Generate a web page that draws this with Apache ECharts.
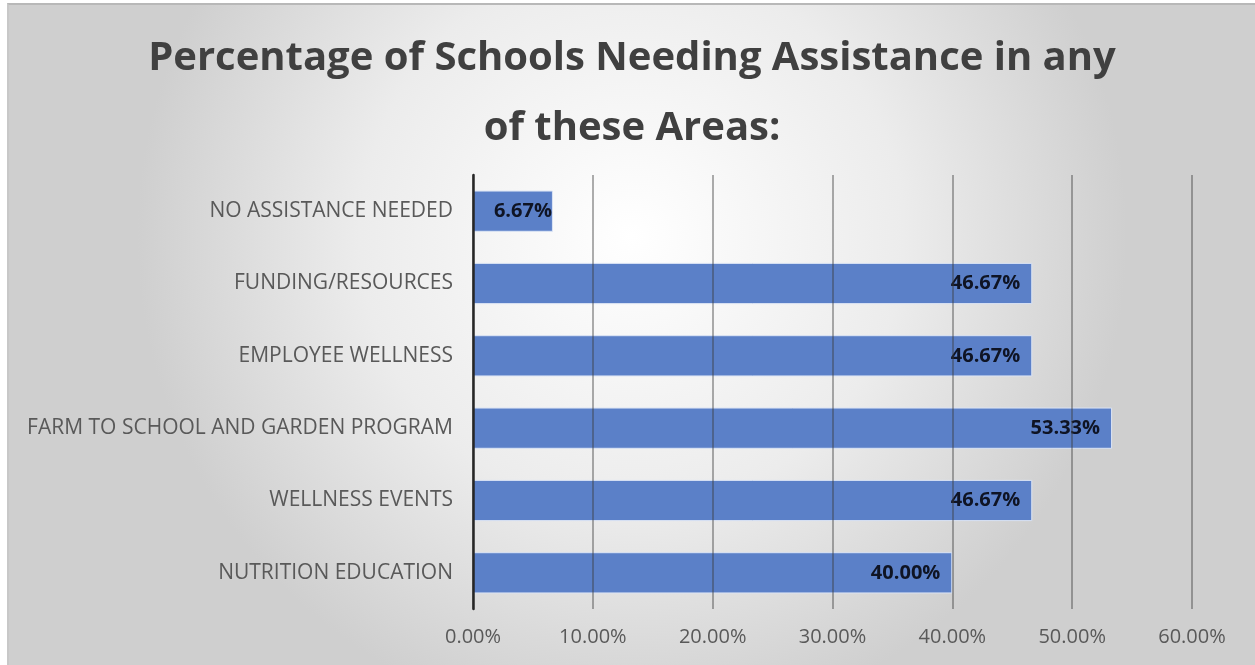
<!DOCTYPE html>
<html>
<head>
<meta charset="utf-8">
<script src="https://cdn.jsdelivr.net/npm/echarts@6/dist/echarts.min.js"></script>
<style>
html,body{margin:0;padding:0;background:#fff;}
#chart{position:absolute;left:7px;top:3px;width:1248px;height:662px;border-top:2px solid #b8b8b8;border-left:2px solid #c8c8c8;box-sizing:border-box;}
</style>
</head>
<body>
<div id="chart"></div>
<script>
const categories = ["NUTRITION EDUCATION","WELLNESS EVENTS","FARM TO SCHOOL AND GARDEN PROGRAM","EMPLOYEE WELLNESS","FUNDING/RESOURCES","NO ASSISTANCE NEEDED"];
const values = [40.00, 46.67, 53.33, 46.67, 46.67, 6.67];
const titleLines = ["Percentage of Schools Needing Assistance in any", "of these Areas:"];

const chart = echarts.init(document.getElementById('chart'));
chart.setOption({
  backgroundColor: {
    type: 'radial', x: 0.5, y: 0.35, r: 0.75,
    colorStops: [{offset: 0, color: '#ffffff'}, {offset: 0.55, color: '#ececec'}, {offset: 1, color: '#cfcfcf'}]
  },
  title: {
    text: titleLines.join('\n'),
    left: 'center', top: 14,
    textStyle: {fontFamily: 'Open Sans', fontWeight: 'bold', fontSize: 40, color: '#404040', lineHeight: 70}
  },
  grid: {left: 464, right: 63, top: 170, bottom: 56},
  xAxis: {
    type: 'value', min: 0, max: 60, interval: 10, z: 3,
    axisLine: {show: false}, axisTick: {show: false},
    splitLine: {show: true, lineStyle: {color: 'rgba(60,60,60,0.55)', width: 1.5}},
    axisLabel: {formatter: v => v.toFixed(2) + '%', fontFamily: 'Open Sans', fontSize: 20, color: '#595959', margin: 18}
  },
  yAxis: {
    type: 'category', data: categories, z: 3,
    axisLine: {show: true, lineStyle: {color: '#262626', width: 2.5}},
    axisTick: {show: false},
    axisLabel: {fontFamily: 'Open Sans', fontSize: 21, color: '#595959', margin: 20}
  },
  series: [{
    type: 'bar',
    data: values.map(v => v < 10 ? {value: v, label: {distance: 1}} : v),
    barCategoryGap: '43%',
    itemStyle: {color: '#5b80c8', borderColor: '#dbe4f5', borderWidth: 1},
    label: {show: true, position: 'insideRight', distance: 12, formatter: p => p.value.toFixed(2) + '%',
      fontFamily: 'Open Sans', fontWeight: 'bold', fontSize: 20, color: '#0f1424'}
  }]
});
</script>
</body>
</html>
